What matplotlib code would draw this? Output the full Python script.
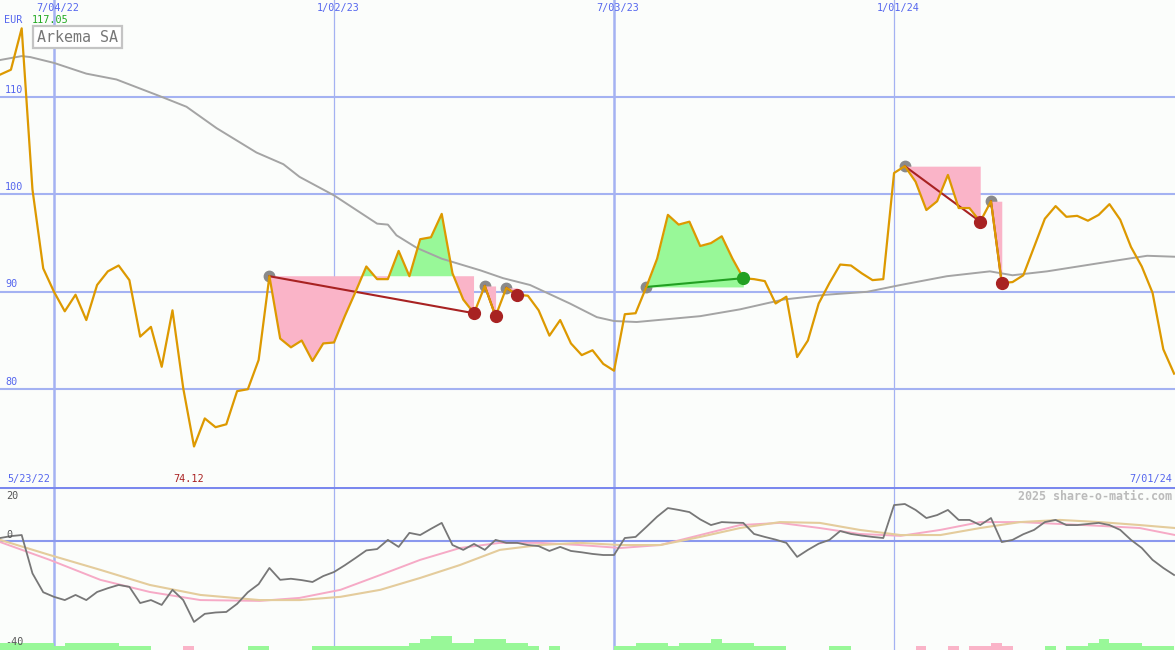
import numpy as np
import matplotlib
matplotlib.use('Agg')
import matplotlib.pyplot as plt

# weekly closes, week 0 = 7/04/22
weeks = np.arange(-5, 105)
price = [112.3, 112.8, 117.05, 100.5, 92.4, 90.0, 88.0, 89.7, 87.1, 90.7,
         92.1, 92.7, 91.2, 85.4, 86.4, 82.3, 88.1, 80.1, 74.12, 77.0,
         76.1, 76.4, 79.8, 80.0, 83.0, 91.6, 85.2, 84.3, 85.0, 82.9,
         84.7, 84.8, 87.5, 90.0, 92.6, 91.3, 91.3, 94.2, 91.6, 95.4,
         95.6, 98.0, 91.9, 89.2, 87.8, 90.6, 87.5, 90.4, 89.7, 89.6,
         88.1, 85.5, 87.1, 84.7, 83.5, 84.0, 82.6, 81.9, 87.7, 87.8,
         90.5, 93.4, 97.9, 96.9, 97.2, 94.7, 95.0, 95.7, 93.4, 91.4,
         91.3, 91.1, 88.8, 89.5, 83.3, 85.0, 88.8, 90.9, 92.8, 92.7,
         91.9, 91.2, 91.3, 102.2, 102.9, 101.3, 98.4, 99.3, 102.0, 98.6,
         98.6, 97.2, 99.3, 90.9, 91.0, 91.7, 94.6, 97.5, 98.8, 97.7,
         97.8, 97.3, 97.9, 99.0, 97.4, 94.6, 92.6, 89.9, 84.1, 81.6]

# long moving average
ma_weeks = [-5, -3, -2.2, 0, 3, 5.8, 9.8, 12.3, 15.1, 18.8, 21.3, 22.8, 26, 30,
            31, 31.8, 33.7, 36, 39.6, 41.7, 44.2, 47.9, 50.4, 52, 54.1, 60,
            63.7, 67.7, 71.7, 75.5, 78.6, 82.9, 86.9, 89, 92.2, 96.8, 101.5, 104.1]
ma_vals = [113.8, 114.2, 114.1, 113.5, 112.4, 111.8, 110.1, 109.0, 106.8, 104.3,
           103.1, 101.8, 99.9, 97.0, 96.9, 95.8, 94.5, 93.4, 92.2, 91.4, 90.7,
           88.8, 87.4, 87.0, 86.9, 87.5, 88.2, 89.2, 89.7, 90.0, 90.7, 91.6,
           92.1, 91.7, 92.1, 92.9, 93.7, 93.6]

# momentum oscillator (lower panel)
mom = [1.1, 1.8, 2.2, -12, -19, -20.7, -21.9, -20.0, -21.9, -18.9,
       -17.5, -16.3, -17.0, -23.0, -21.9, -23.7, -18.1, -21.9, -30.0, -27.0,
       -26.5, -26.3, -23.3, -19.0, -16.0, -10.0, -14.4, -14.0, -14.5, -15.2,
       -13.0, -11.5, -9.0, -6.3, -3.5, -3.0, 0.4, -2.2, 3.0, 2.2,
       4.5, 6.7, -1.5, -3.3, -1.1, -3.3, 0.4, -0.7, -0.7, -1.5,
       -1.9, -3.7, -2.2, -3.7, -4.2, -4.8, -5.2, -5.2, 1.1, 1.5,
       5.2, 9.0, 12.2, 11.5, 10.7, 8.0, 5.9, 7.0, 6.8, 6.7,
       2.6, 1.5, 0.5, -0.7, -5.9, -3.3, -1.0, 0.4, 3.7, 2.6,
       2.0, 1.5, 1.1, 13.3, 13.7, 11.5, 8.5, 9.6, 11.5, 7.8,
       7.8, 5.9, 8.5, -0.4, 0.4, 2.5, 4.1, 7.0, 7.8, 5.9,
       5.9, 6.3, 6.7, 5.9, 4.1, 0.4, -2.6, -7.0, -10.0, -12.6]

fast_weeks = [-5, -0.4, 4.3, 8.9, 13.6, 19.1, 22.8, 26.6, 30.3, 34, 37.7, 41.4,
              45.1, 48.8, 52.6, 56.3, 60, 63.7, 67.4, 71.1, 74.8, 78.6, 82.3,
              86, 89.7, 93.4, 97.1, 100.8, 104.1]
fast_vals = [-0.4, -7, -14.4, -18.9, -21.9, -22.2, -21.1, -18.1, -12.6, -7, -2.6,
             -0.7, -0.7, -1.5, -2.6, -1.5, 2.2, 5.9, 6.7, 4.8, 2.6, 1.9, 4.1,
             7, 7, 6.3, 5.6, 4.8, 2.2]
slow_weeks = fast_weeks
slow_vals = [0.4, -5.2, -10.7, -16.3, -20, -21.9, -21.9, -20.7, -18.1, -13.7,
             -8.9, -3.3, -1.5, -0.7, -1.5, -1.5, 1.5, 4.8, 7, 6.7, 4.1, 2.2,
             2.2, 4.8, 7, 7.8, 7, 5.9, 4.8]

# weekly signal bars at the bottom (+ green, - pink), weeks -5..103
bars = [2, 2, 2, 2, 2, 1, 2, 2, 2, 2, 2, 1, 1, 1, 0, 0, 0, -1, 0, 0,
        0, 0, 0, 1, 1, 0, 0, 0, 0, 1, 1, 1, 1, 1, 1, 1, 1, 1, 2, 3,
        4, 4, 2, 2, 3, 3, 3, 2, 2, 1, 0, 1, 0, 0, 0, 0, 0, 1, 1, 2,
        2, 2, 1, 2, 2, 2, 3, 2, 2, 2, 1, 1, 1, 0, 0, 0, 0, 1, 1, 0,
        0, 0, 0, 0, 0, -1, 0, 0, -1, 0, -1, -1, -2, -1, 0, 0, 0, 1, 0, 1,
        1, 2, 3, 2, 2, 2, 1, 1, 1]

# trades: entry week -> exit week
entries = [20, 40, 42, 55, 79, 87]
exits = [39, 41, 43, 64, 86, 88]

date_ticks = [0, 26, 52, 78]
date_labels = ['7/04/22', '1/02/23', '7/03/23', '1/01/24']
price_levels = [80, 90, 100, 110]

W, H = 1175, 650
BG = '#fbfdfb'
GRID = '#a4b2f2'
BLUE_TXT = '#5566ee'
PINK = '#fab4c8'
GREEN = '#98f898'
MONO = 'DejaVu Sans Mono'

fig = plt.figure(figsize=(W / 100, H / 100), dpi=100, facecolor=BG)
ax = fig.add_axes([0, 163 / H, 1, 487 / H])
ax2 = fig.add_axes([0, 0, 1, 163 / H])
xlim = ((0 - 54) / 10.77, (W - 54) / 10.77)
for a in (ax, ax2):
    a.set_facecolor(BG)
    a.set_xlim(*xlim)
    a.axis('off')
ax.set_ylim(69.96, 119.96)
ax2.set_ylim(-40.4, 20)

price_arr = np.array(price)
wk = np.array(weeks)

# grid
for lv in price_levels:
    ax.axhline(lv, color=GRID, lw=1.5, zorder=1)
for i, d in enumerate(date_ticks):
    lw = 1.8 if i % 2 == 0 else 0.9
    for a in (ax, ax2):
        a.axvline(d, color=GRID, lw=lw, zorder=1)
ax2.axhline(0, color='#8a98ee', lw=1.5, zorder=1)
ax2.axhline(20, color='#7a88ee', lw=2.2, zorder=5)

# trades
for e, x in zip(entries, exits):
    i0, i1 = e + 5, x + 5
    lvl = price[i0]
    seg_w = wk[i0:i1 + 1]
    seg_p = price_arr[i0:i1 + 1]
    ax.plot(e, lvl, 'o', color='#8a8a8a', ms=7.5, zorder=2)
    ax.fill_between(seg_w, lvl, seg_p, where=seg_p <= lvl, interpolate=True,
                    color=PINK, lw=0, zorder=3)
    ax.fill_between(seg_w, lvl, seg_p, where=seg_p >= lvl, interpolate=True,
                    color=GREEN, lw=0, zorder=3)
    win = price[i1] > lvl
    col = '#22a022' if win else '#a82222'
    ax.plot([e, x], [lvl, price[i1]], color=col, lw=1.5, zorder=4)
    ax.plot(x, price[i1], 'o', color=col, ms=8.5, zorder=7)

ax.plot(ma_weeks, ma_vals, color='#a4a4a4', lw=1.4, zorder=4)
ax.plot(weeks, price, color='#dd9900', lw=1.6, zorder=6)

# lower panel
ax2.plot(fast_weeks, fast_vals, color='#f6aac6', lw=1.4, zorder=3)
ax2.plot(slow_weeks, slow_vals, color='#e4cc9c', lw=1.5, zorder=3)
ax2.plot(weeks, mom, color='#777777', lw=1.3, zorder=4)
bw = np.arange(-5, 104)
bv = np.array(bars)
unit = 1.3
ax2.bar(bw[bv > 0], bv[bv > 0] * unit, width=1.0, align='edge', bottom=-40.4,
        color=GREEN, lw=0, zorder=2)
ax2.bar(bw[bv < 0], -bv[bv < 0] * unit, width=1.0, align='edge', bottom=-40.4,
        color=PINK, lw=0, zorder=2)

# text
def px(x, y):
    return x / W, 1 - y / H

for d, lab in zip(date_ticks, date_labels):
    ax.text(d + 0.37, 1 - 8 / 487, lab, transform=ax.get_xaxis_transform(), ha='center',
            va='center', color=BLUE_TXT, family=MONO, fontsize=7.3)
for lv in price_levels:
    ax.text(5 / W, lv + 0.25, str(lv), transform=ax.get_yaxis_transform(),
            ha='left', va='bottom', color=BLUE_TXT, family=MONO, fontsize=7.3)

fig.text(*px(4, 20), 'EUR', ha='left', va='center', color=BLUE_TXT, family=MONO, fontsize=7.3)
fig.text(*px(32, 20), '%.2f' % max(price), ha='left', va='center', color='#22aa22',
         family=MONO, fontsize=7.3)
fig.text(*px(37, 37), 'Arkema SA', ha='left', va='center', color='#777777', family=MONO,
         fontsize=10.8, bbox=dict(boxstyle='square,pad=0.25', fc='white', ec='#c4c4c4', lw=1.6))
fig.text(*px(7, 479), '5/23/22', ha='left', va='center', color=BLUE_TXT, family=MONO, fontsize=7.3)
ax.text(weeks[int(np.argmin(price))] - 0.5, 69.96 + 8 / 9.74, '%.2f' % min(price),
        ha='center', va='center', color='#aa2222', family=MONO, fontsize=7.3)
fig.text(*px(1172, 479), '7/01/24', ha='right', va='center', color=BLUE_TXT, family=MONO,
         fontsize=7.3)
fig.text(*px(1172, 496), '2025 share-o-matic.com', ha='right', va='center', color='#bbbbbb',
         family=MONO, fontsize=8.4, fontweight='bold')
fig.text(*px(6, 496), '20', ha='left', va='center', color='#555555', family=MONO, fontsize=7.3)
fig.text(*px(6, 535), '0', ha='left', va='center', color='#555555', family=MONO, fontsize=7.3)
fig.text(*px(5, 642), '-40', ha='left', va='center', color='#555555', family=MONO, fontsize=7.3)

fig.savefig('out.png', dpi=100, facecolor=BG)
